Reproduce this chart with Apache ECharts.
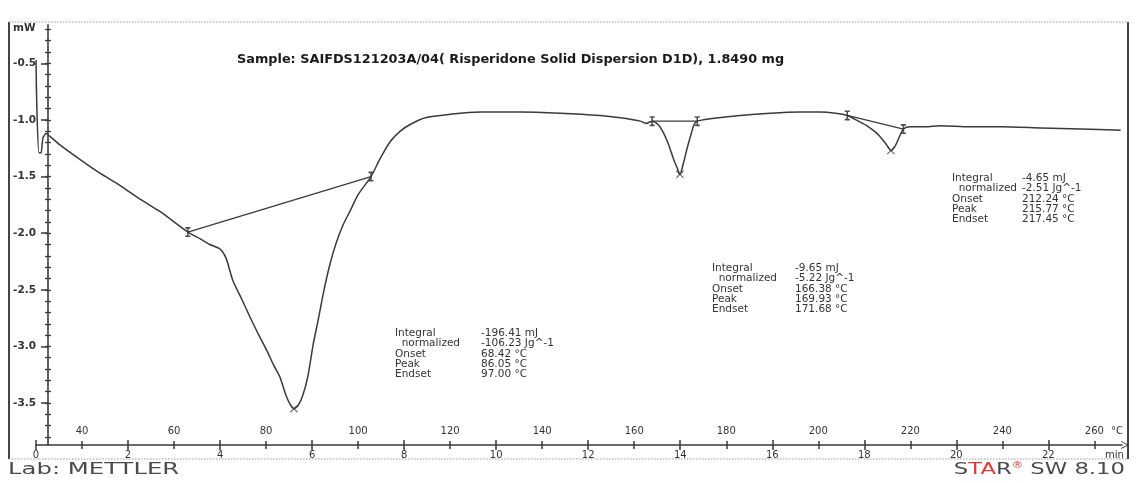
<!DOCTYPE html>
<html>
<head>
<meta charset="utf-8">
<script src="https://cdn.jsdelivr.net/npm/echarts@6/dist/echarts.min.js"></script>
<style>
html,body{margin:0;padding:0;background:#fff;}
#chart{width:1136px;height:483px;}
</style>
</head>
<body>
<div id="chart"></div>
<script>
// DSC curve: sample temperature (°C) and heat flow (mW)
const temperature = [30.0, 30.2, 30.65, 31.1, 31.5, 32.2, 32.6, 35.2, 39.6, 43.9, 48.3, 52.6, 57.0, 63.0,
  65.7, 67.8, 70.0, 71.3, 72.8, 74.8, 76.5, 78.3, 80.2, 81.7, 83.0, 84.3, 85.2, 86.05, 87.0, 88.0, 89.1,
  90.2, 91.3, 92.6, 93.9, 95.2, 96.7, 98.3, 100.0, 102.8, 104.8, 107.0, 109.1, 111.3, 114.6, 120.0,
  126.5, 135.2, 143.9, 152.6, 157.0, 161.3, 162.6, 163.9, 165.2, 166.3, 167.4, 168.5, 169.3, 169.93,
  170.7, 171.5, 172.4, 173.0, 173.7, 176.5, 183.0, 189.6, 196.1, 200.4, 203.7, 206.3, 208.7, 210.9,
  212.8, 214.3, 215.2, 215.77, 216.7, 217.6, 218.5, 220.0, 223.3, 226.5, 233.0, 239.6, 248.3, 257.0, 265.7];
const heatFlow = [-0.47, -0.91, -1.29, -1.29, -1.16, -1.12, -1.13, -1.22, -1.35, -1.47, -1.58, -1.70, -1.81, -1.99,
  -2.05, -2.10, -2.14, -2.22, -2.42, -2.59, -2.74, -2.89, -3.04, -3.17, -3.27, -3.43, -3.51, -3.55, -3.52, -3.43, -3.26,
  -2.99, -2.77, -2.50, -2.27, -2.09, -1.93, -1.80, -1.66, -1.50, -1.34, -1.19, -1.10, -1.04, -0.98, -0.95,
  -0.93, -0.93, -0.94, -0.96, -0.98, -1.01, -1.03, -1.01, -1.04, -1.11, -1.21, -1.34, -1.42, -1.48,
  -1.38, -1.25, -1.12, -1.04, -1.01, -0.99, -0.96, -0.94, -0.93, -0.93, -0.94, -0.96, -1.01, -1.06,
  -1.12, -1.19, -1.24, -1.27, -1.23, -1.15, -1.08, -1.06, -1.06, -1.05, -1.06, -1.06, -1.07, -1.08, -1.09];

// Integration limits (baseline end points) for the three endothermic events
const limitStartT = [63.0, 163.9, 206.3];
const limitStartV = [-1.99, -1.01, -0.96];
const limitEndT = [102.8, 173.7, 218.5];
const limitEndV = [-1.50, -1.01, -1.08];

// Peak positions
const peakT = [86.05, 169.93, 215.77];
const peakV = [-3.55, -1.48, -1.27];

// Evaluation results
const integralText = ['-196.41 mJ', '-9.65 mJ', '-4.65 mJ'];
const normalizedText = ['-106.23 Jg^-1', '-5.22 Jg^-1', '-2.51 Jg^-1'];
const onsetT = [68.42, 166.38, 212.24];
const endsetT = [97.00, 171.68, 217.45];

// Axis ticks
const tempTicks = [40, 60, 80, 100, 120, 140, 160, 180, 200, 220, 240, 260];
const timeTicks = [0, 2, 4, 6, 8, 10, 12, 14, 16, 18, 20, 22];
const flowLabels = [-0.5, -1.0, -1.5, -2.0, -2.5, -3.0, -3.5];
const flowTicks = [-0.2, -0.3, -0.4, -0.5, -0.6, -0.7, -0.8, -0.9, -1.0, -1.1, -1.2, -1.3, -1.4, -1.5,
  -1.6, -1.7, -1.8, -1.9, -2.0, -2.1, -2.2, -2.3, -2.4, -2.5, -2.6, -2.7, -2.8, -2.9, -3.0, -3.1,
  -3.2, -3.3, -3.4, -3.5, -3.6, -3.7, -3.8];

const INK = '#3a3a3a';
const FONT = 'DejaVu Sans';
const T_MIN = 30, T_MAX = 266, RATE = 10; // heating rate K/min
const V_MIN = -3.87, V_MAX = -0.16;

const IBAR = 'path://M0,0 L6,0 L6,1.6 L3.9,1.6 L3.9,8.4 L6,8.4 L6,10 L0,10 L0,8.4 L2.1,8.4 L2.1,1.6 L0,1.6 Z';
const XMARK = 'path://M0,1 L1,0 L10,9 L9,10 Z M9,0 L10,1 L1,10 L0,9 Z';
const CHEVRON = 'path://M0,10 L5,0 L10,10 L8.8,10 L5,2.4 L1.2,10 Z';

const chart = echarts.init(document.getElementById('chart'));

const curve = temperature.map((t, i) => [t, heatFlow[i]]);
const baselineSeries = limitStartT.map((t, i) => ({
  type: 'line', xAxisIndex: 0, yAxisIndex: 0, symbol: 'none', silent: true,
  lineStyle: { color: INK, width: 1.3 },
  data: [[t, limitStartV[i]], [limitEndT[i], limitEndV[i]]]
}));
const limitPoints = [];
limitStartT.forEach((t, i) => {
  limitPoints.push([t, limitStartV[i]]);
  limitPoints.push([limitEndT[i], limitEndV[i]]);
});

function block(x0, x1, y0, i) {
  const rows = [
    ['Integral', integralText[i]],
    ['  normalized', normalizedText[i]],
    ['Onset', onsetT[i].toFixed(2) + ' °C'],
    ['Peak', peakT[i].toFixed(2) + ' °C'],
    ['Endset', endsetT[i].toFixed(2) + ' °C']
  ];
  const els = [];
  rows.forEach((r, k) => {
    const y = y0 + k * 10.4;
    [[x0, r[0]], [x1, r[1]]].forEach(([x, s]) => {
      els.push({
        type: 'text', x: x, y: y, silent: true,
        style: { text: s, fill: '#333', fontSize: 10.5, fontFamily: FONT,
          align: 'left', verticalAlign: 'middle', textAlign: 'left', textVerticalAlign: 'middle' }
      });
    });
  });
  return els;
}

function tickXAxis(opts) {
  return Object.assign({
    type: 'value', position: 'bottom', min: T_MIN, max: T_MAX,
    axisLine: { show: false }, splitLine: { show: false }, axisLabel: { show: false },
    axisTick: { show: true, lineStyle: { color: INK, width: 1.5 } }
  }, opts);
}

function tickYAxis(inside) {
  return {
    type: 'value', position: 'left', min: V_MIN, max: V_MAX, offset: -12,
    axisLine: { show: false }, splitLine: { show: false }, axisLabel: { show: false },
    axisTick: { show: true, customValues: flowTicks, inside: inside, length: 3, lineStyle: { color: INK, width: 1.3 } }
  };
}

const labelTxt = (s, x, y, extra) => ({
  type: 'text', x: x, y: y, silent: true,
  style: Object.assign({ text: s, fill: '#333', fontSize: 10.5, fontFamily: FONT,
    align: 'left', verticalAlign: 'middle', textAlign: 'left', textVerticalAlign: 'middle' }, extra || {})
});

const option = {
  animation: false,
  backgroundColor: '#fff',
  grid: { left: 36, right: 14, top: 24.9, height: 420, containLabel: false },
  xAxis: [
    {
      type: 'value', position: 'bottom', min: T_MIN, max: T_MAX,
      axisLine: { show: true, symbol: ['none', CHEVRON], symbolSize: [8, 9], symbolOffset: [0, 3],
        lineStyle: { color: INK, width: 1.6 } },
      axisTick: { show: true, customValues: tempTicks, inside: true, length: 4, lineStyle: { color: INK, width: 1.5 } },
      axisLabel: { show: true, customValues: tempTicks, inside: true, margin: 8, color: '#333',
        fontSize: 10, fontFamily: FONT },
      splitLine: { show: false }
    },
    tickXAxis({ axisTick: { show: true, customValues: tempTicks, inside: false, length: 4, lineStyle: { color: INK, width: 1.5 } } }),
    {
      type: 'value', position: 'bottom', min: 0, max: (T_MAX - T_MIN) / RATE,
      axisLine: { show: false }, splitLine: { show: false },
      axisTick: { show: true, customValues: timeTicks, inside: false, length: 5, lineStyle: { color: INK, width: 1.5 } },
      axisLabel: { show: true, customValues: timeTicks, margin: 6, color: '#333', fontSize: 10, fontFamily: FONT }
    },
    tickXAxis({ min: 0, max: (T_MAX - T_MIN) / RATE,
      axisTick: { show: true, customValues: timeTicks, inside: true, length: 5, lineStyle: { color: INK, width: 1.5 } } })
  ],
  yAxis: [
    {
      type: 'value', position: 'left', min: V_MIN, max: V_MAX, offset: -12,
      axisLine: { show: true, lineStyle: { color: INK, width: 1.6 } },
      axisTick: { show: true, customValues: flowLabels, inside: false, length: 7, lineStyle: { color: INK, width: 1.5 } },
      axisLabel: { show: true, customValues: flowLabels, formatter: v => v.toFixed(1), margin: 12,
        color: '#333', fontSize: 10.5, fontFamily: FONT, fontWeight: 'bold' },
      splitLine: { show: false }
    },
    tickYAxis(false),
    tickYAxis(true)
  ],
  series: [
    {
      type: 'line', xAxisIndex: 0, yAxisIndex: 0, data: curve, showSymbol: false, smooth: 0.25,
      lineStyle: { color: INK, width: 1.5 }, silent: true
    },
    ...baselineSeries,
    {
      type: 'scatter', xAxisIndex: 0, yAxisIndex: 0, data: limitPoints, symbol: IBAR, symbolSize: [5, 10],
      itemStyle: { color: '#222' }, silent: true
    },
    {
      type: 'scatter', xAxisIndex: 0, yAxisIndex: 0, data: peakT.map((t, i) => [t, peakV[i]]),
      symbol: XMARK, symbolSize: 8, itemStyle: { color: '#444' }, silent: true
    }
  ],
  graphic: {
    elements: [
      // frame
      { type: 'line', silent: true, shape: { x1: 9, y1: 22, x2: 9, y2: 459 }, style: { stroke: '#444', lineWidth: 2 } },
      { type: 'line', silent: true, shape: { x1: 1128, y1: 22, x2: 1128, y2: 459 }, style: { stroke: '#444', lineWidth: 2 } },
      { type: 'line', silent: true, shape: { x1: 9, y1: 22, x2: 1128, y2: 22 }, style: { stroke: '#999', lineWidth: 1.2, lineDash: [1.5, 1.5] } },
      { type: 'line', silent: true, shape: { x1: 9, y1: 459, x2: 1128, y2: 459 }, style: { stroke: '#999', lineWidth: 1.2, lineDash: [1.5, 1.5] } },
      labelTxt('mW', 13, 28, { fontWeight: 'bold', fontSize: 10.5 }),
      labelTxt('°C', 1111, 431, { fontSize: 10 }),
      labelTxt('min', 1105, 455, { fontSize: 10 }),
      Object.assign(labelTxt('Sample: SAIFDS121203A/04( Risperidone Solid Dispersion D1D), 1.8490 mg', 237, 60,
        { fontWeight: 'bold', fontSize: 12, fill: '#1a1a1a' }), { scaleX: 1.07 }),
      ...block(395, 481, 333, 0),
      ...block(712, 795, 268, 1),
      ...block(952, 1022, 178, 2),
      Object.assign(labelTxt('Lab: METTLER', 8, 470, { fontSize: 16, fill: '#4a4a4a' }), { scaleX: 1.52 }),
      {
        type: 'text', x: 1125, y: 470, silent: true, scaleX: 1.42,
        style: {
          text: '{s|S}{r|TA}{s|R}{g|®} {s|SW 8.10}',
          align: 'right', verticalAlign: 'middle', textAlign: 'right', textVerticalAlign: 'middle',
          fontFamily: FONT, fontSize: 16, fill: '#4a4a4a',
          rich: {
            s: { fill: '#4a4a4a', fontSize: 16, fontFamily: FONT },
            r: { fill: '#e23b3b', fontSize: 16, fontFamily: FONT },
            g: { fill: '#e23b3b', fontSize: 8, fontFamily: FONT, verticalAlign: 'top' }
          }
        }
      }
    ]
  }
};

chart.setOption(option);
</script>
</body>
</html>
